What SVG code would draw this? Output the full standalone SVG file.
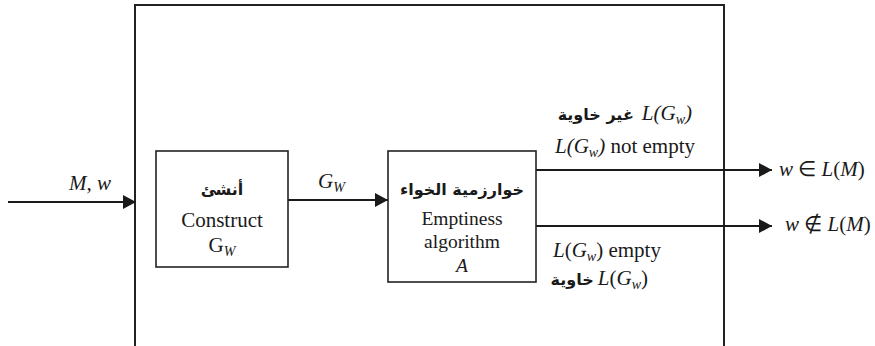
<svg xmlns="http://www.w3.org/2000/svg" width="875" height="346" viewBox="0 0 875 346">
  <defs>
    <marker id="arrow" viewBox="0 0 13 14" refX="13" refY="7" markerWidth="13" markerHeight="14" markerUnits="userSpaceOnUse" orient="auto">
      <path d="M0,0 L13,7 L0,14 Z" fill="#1a1a1a"/>
    </marker>
  </defs>
  <style>
    .frame { fill: none; stroke: #222; stroke-width: 2; }
    .box { fill: #fff; stroke: #222; stroke-width: 1.6; }
    .wire { fill: none; stroke: #1a1a1a; stroke-width: 2; }
    .t { font-family: "Liberation Serif", "Times New Roman", serif; font-size: 21px; fill: #1a1a1a; }
    .bx { font-size: 19.5px; }
    .i { font-style: italic; }
    .sub { font-size: 14px; }
    .ar { font-family: "DejaVu Sans", "Noto Sans", sans-serif; font-weight: bold; font-size: 16px; fill: #1a1a1a; }
  </style>

  <!-- enclosing system boundary (open at the bottom) -->
  <path class="frame" d="M135,346 L135,5 L724,5 L724,346"/>

  <!-- connectors -->
  <g id="connectors">
    <line class="wire" x1="8" y1="202" x2="136" y2="202" marker-end="url(#arrow)"/>
    <line class="wire" x1="288" y1="200" x2="388" y2="200" marker-end="url(#arrow)"/>
    <line class="wire" x1="536" y1="170" x2="772" y2="170" marker-end="url(#arrow)"/>
    <line class="wire" x1="536" y1="226" x2="772" y2="226" marker-end="url(#arrow)"/>
  </g>

  <!-- connector labels -->
  <g id="labels">
    <text class="t i" x="90" y="190" text-anchor="middle">M, w</text>
    <text class="t i" x="318" y="188">G<tspan class="sub" dy="4">W</tspan></text>

    <text x="692" y="120" text-anchor="end"><tspan class="ar">غير خاوية</tspan><tspan class="t i" dx="8">L(G</tspan><tspan class="t i sub" dy="4">w</tspan><tspan class="t i" dy="-4">)</tspan></text>
    <text x="555" y="153"><tspan class="t i">L(G</tspan><tspan class="t i sub" dy="4">w</tspan><tspan class="t i" dy="-4">)</tspan><tspan class="t"> not empty</tspan></text>

    <text x="779" y="176"><tspan class="t i">w</tspan><tspan class="t"> ∈ </tspan><tspan class="t i">L</tspan><tspan class="t">(</tspan><tspan class="t i">M</tspan><tspan class="t">)</tspan></text>
    <text x="785" y="231"><tspan class="t i">w</tspan><tspan class="t"> ∉ </tspan><tspan class="t i">L</tspan><tspan class="t">(</tspan><tspan class="t i">M</tspan><tspan class="t">)</tspan></text>

    <text x="553" y="257"><tspan class="t i">L</tspan><tspan class="t">(</tspan><tspan class="t i">G</tspan><tspan class="t i sub" dy="4">w</tspan><tspan class="t" dy="-4">) empty</tspan></text>
    <text x="648" y="285" text-anchor="end"><tspan class="ar">خاوية</tspan><tspan class="t i" dx="4">L</tspan><tspan class="t">(</tspan><tspan class="t i">G</tspan><tspan class="t i sub" dy="4">w</tspan><tspan class="t" dy="-4">)</tspan></text>
  </g>

  <!-- construct grammar node -->
  <g id="construct">
    <rect class="box" x="156" y="151" width="132" height="116"/>
    <text class="ar" x="222" y="195" text-anchor="middle">أنشئ</text>
    <text class="t" x="222" y="227" text-anchor="middle">Construct</text>
    <text class="t" x="222" y="252" text-anchor="middle">G<tspan class="i sub" dy="4">W</tspan></text>
  </g>

  <!-- emptiness algorithm node -->
  <g id="emptiness">
    <rect class="box" x="388" y="151" width="148" height="131"/>
    <text class="ar" x="462" y="195" text-anchor="middle">خوارزمية الخواء</text>
    <text class="t bx" x="462" y="225" text-anchor="middle">Emptiness</text>
    <text class="t bx" x="462" y="248" text-anchor="middle">algorithm</text>
    <text class="t bx i" x="462" y="272" text-anchor="middle">A</text>
  </g>
</svg>
